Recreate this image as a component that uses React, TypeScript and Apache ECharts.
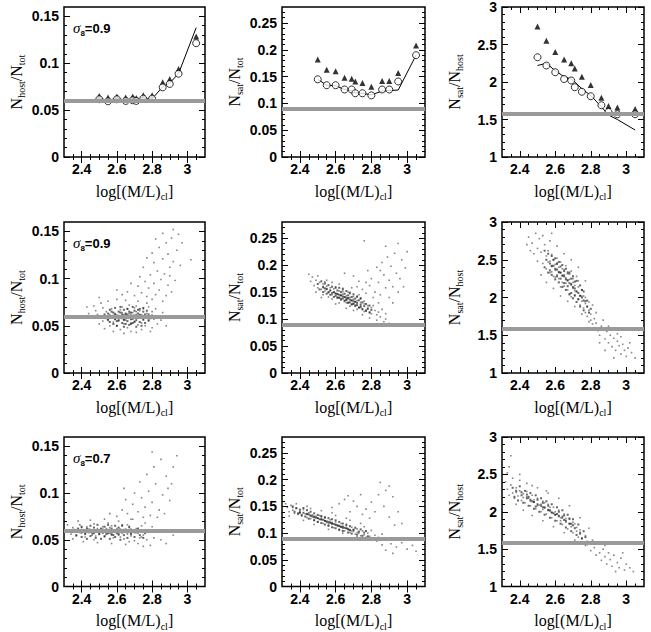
import React, { useEffect, useRef } from 'react';
import * as echarts from 'echarts';

// ---------- axis ticks ----------
const xMajor = [2.4, 2.6, 2.8, 3.0];
const xMinor = [2.35, 2.4, 2.45, 2.5, 2.55, 2.6, 2.65, 2.7, 2.75, 2.8, 2.85, 2.9, 2.95, 3.0, 3.05];
const yMajorHostTot = [0, 0.05, 0.1, 0.15];
const yMinorHostTot = [0.01, 0.02, 0.03, 0.04, 0.05, 0.06, 0.07, 0.08, 0.09, 0.1, 0.11, 0.12, 0.13, 0.14, 0.15];
const yMajorSatTot = [0, 0.05, 0.1, 0.15, 0.2, 0.25];
const yMinorSatTot = [0.01, 0.02, 0.03, 0.04, 0.05, 0.06, 0.07, 0.08, 0.09, 0.1, 0.11, 0.12, 0.13, 0.14, 0.15, 0.16, 0.17, 0.18, 0.19, 0.2, 0.21, 0.22, 0.23, 0.24, 0.25, 0.26, 0.27];
const yMajorSatHost = [1, 1.5, 2, 2.5, 3];
const yMinorSatHost = [1.1, 1.2, 1.3, 1.4, 1.5, 1.6, 1.7, 1.8, 1.9, 2, 2.1, 2.2, 2.3, 2.4, 2.5, 2.6, 2.7, 2.8, 2.9];

// ---------- reference levels (grey lines) ----------
const grayHostTot = 0.06;
const graySatTot = 0.094;
const graySatHost = 1.58;

// ---------- top row: binned results ----------
const binX = [2.5, 2.55, 2.6, 2.65, 2.69, 2.71, 2.75, 2.8, 2.86, 2.9, 2.95, 3.05];
const hostTotLine = [0.062, 0.061, 0.062, 0.061, 0.061, 0.061, 0.062, 0.062, 0.075, 0.079, 0.089, 0.138];
const hostTotCircles = [0.0616, 0.0594, 0.0616, 0.0598, 0.0605, 0.0598, 0.0623, 0.0623, 0.0743, 0.0779, 0.0888, 0.1214];
const hostTotTriangles = [0.065, 0.0634, 0.0645, 0.0634, 0.0645, 0.063, 0.066, 0.066, 0.0797, 0.0833, 0.094, 0.1286];
const satTotLine = [0.145, 0.134, 0.133, 0.126, 0.124, 0.12, 0.119, 0.116, 0.123, 0.124, 0.125, 0.19];
const satTotCircles = [0.145, 0.134, 0.134, 0.126, 0.126, 0.119, 0.119, 0.115, 0.126, 0.126, 0.141, 0.19];
const satTotTriangles = [0.182, 0.163, 0.16, 0.148, 0.146, 0.141, 0.138, 0.131, 0.142, 0.142, 0.157, 0.208];
const satHostLine = [2.22, 2.25, 2.15, 2.07, 2.04, 2.0, 1.91, 1.82, 1.67, 1.56, 1.5, 1.36];
const satHostCircles = [2.33, 2.22, 2.13, 2.04, 2.02, 1.93, 1.87, 1.81, 1.69, 1.6, 1.57, 1.57];
const satHostTriangles = [2.74, 2.55, 2.4, 2.3, 2.25, 2.18, 2.07, 1.96, 1.79, 1.68, 1.66, 1.64];

// ---------- middle row: sigma8 = 0.9 clusters (x, y pairs) ----------
const hostTot09 = [
  2.60,0.060, 2.62,0.058, 2.64,0.061, 2.66,0.059, 2.68,0.062, 2.70,0.060, 2.72,0.058, 2.63,0.064, 2.65,0.056, 2.67,0.063,
  2.69,0.057, 2.71,0.065, 2.61,0.055, 2.59,0.063, 2.57,0.059, 2.58,0.054, 2.56,0.062, 2.55,0.057, 2.74,0.061, 2.75,0.056,
  2.73,0.066, 2.76,0.059, 2.77,0.063, 2.78,0.055, 2.62,0.067, 2.66,0.068, 2.70,0.069, 2.64,0.052, 2.68,0.053, 2.72,0.051,
  2.60,0.050, 2.54,0.065, 2.53,0.060, 2.52,0.055, 2.57,0.068, 2.63,0.070, 2.67,0.072, 2.71,0.071, 2.75,0.068, 2.79,0.060,
  2.80,0.065, 2.81,0.057, 2.65,0.062, 2.69,0.064, 2.61,0.061, 2.67,0.058, 2.73,0.062, 2.64,0.057, 2.58,0.061, 2.70,0.055,
  2.74,0.053, 2.76,0.050, 2.66,0.048, 2.62,0.046, 2.56,0.050, 2.78,0.070, 2.69,0.061, 2.63,0.059, 2.59,0.057, 2.71,0.062,
  2.46,0.058, 2.48,0.066, 2.50,0.052, 2.47,0.071, 2.49,0.062, 2.51,0.074, 2.44,0.063, 2.53,0.047, 2.58,0.044, 2.68,0.044,
  2.74,0.046, 2.80,0.048, 2.83,0.052, 2.84,0.060, 2.82,0.068, 2.85,0.056, 2.86,0.064, 2.55,0.076, 2.60,0.078, 2.65,0.077,
  2.72,0.076, 2.77,0.074, 2.52,0.069, 2.43,0.070, 2.50,0.080, 2.88,0.050, 2.87,0.059, 2.64,0.042, 2.71,0.043, 2.79,0.044,
  2.70,0.082, 2.74,0.085, 2.77,0.081, 2.80,0.078, 2.82,0.083, 2.78,0.090, 2.84,0.088, 2.86,0.076, 2.88,0.082, 2.72,0.092,
  2.76,0.097, 2.81,0.095, 2.85,0.099, 2.89,0.093, 2.91,0.086, 2.79,0.104, 2.83,0.108, 2.87,0.105, 2.90,0.112, 2.93,0.098,
  2.75,0.112, 2.81,0.117, 2.86,0.121, 2.89,0.126, 2.92,0.118, 2.94,0.130, 2.84,0.133, 2.88,0.138, 2.91,0.143, 2.95,0.147,
  2.80,0.127, 2.77,0.122, 2.86,0.148, 2.92,0.152, 2.97,0.138, 2.66,0.086, 2.68,0.095, 2.63,0.083, 2.90,0.103, 2.96,0.114,
  2.73,0.102, 2.82,0.142, 3.02,0.120, 2.60,0.088,
];
const hostTot09Core = [
  2.54,0.058, 2.55,0.063, 2.56,0.054, 2.56,0.067, 2.57,0.060, 2.58,0.052, 2.58,0.064, 2.59,0.057, 2.59,0.069, 2.60,0.061,
  2.60,0.050, 2.61,0.065, 2.61,0.056, 2.62,0.059, 2.62,0.070, 2.63,0.053, 2.63,0.062, 2.64,0.067, 2.64,0.049, 2.65,0.058,
  2.65,0.063, 2.66,0.055, 2.66,0.068, 2.67,0.060, 2.67,0.051, 2.68,0.064, 2.68,0.057, 2.69,0.070, 2.69,0.053, 2.70,0.061,
  2.70,0.066, 2.71,0.056, 2.71,0.049, 2.72,0.063, 2.72,0.059, 2.73,0.068, 2.73,0.054, 2.74,0.061, 2.74,0.050, 2.75,0.065,
  2.75,0.057, 2.76,0.062, 2.76,0.053, 2.77,0.059, 2.77,0.066, 2.78,0.056, 2.78,0.062, 2.79,0.058, 2.80,0.061, 2.57,0.065,
  2.60,0.055, 2.62,0.064, 2.64,0.056, 2.66,0.062, 2.68,0.060, 2.70,0.054, 2.72,0.067, 2.67,0.065, 2.63,0.058, 2.69,0.058,
  2.65,0.052, 2.71,0.060, 2.53,0.062, 2.55,0.056, 2.73,0.061, 2.75,0.069, 2.61,0.060, 2.59,0.062, 2.64,0.061, 2.68,0.052,
];
const satTot09 = [
  2.60,0.148, 2.61,0.141, 2.62,0.152, 2.63,0.138, 2.64,0.146, 2.65,0.135, 2.66,0.143, 2.67,0.131, 2.68,0.140, 2.69,0.128,
  2.70,0.137, 2.71,0.126, 2.72,0.134, 2.73,0.122, 2.74,0.131, 2.75,0.119, 2.76,0.128, 2.77,0.117, 2.78,0.125, 2.79,0.113,
  2.80,0.121, 2.59,0.156, 2.58,0.145, 2.57,0.158, 2.56,0.149, 2.55,0.161, 2.54,0.152, 2.53,0.165, 2.52,0.155, 2.51,0.168,
  2.50,0.158, 2.49,0.172, 2.48,0.162, 2.62,0.139, 2.64,0.151, 2.66,0.136, 2.68,0.147, 2.70,0.129, 2.72,0.141, 2.74,0.124,
  2.76,0.133, 2.78,0.118, 2.63,0.144, 2.65,0.141, 2.67,0.138, 2.69,0.134, 2.71,0.132, 2.61,0.147, 2.59,0.150, 2.57,0.153,
  2.55,0.155, 2.53,0.158, 2.66,0.130, 2.70,0.142, 2.74,0.137, 2.60,0.160, 2.64,0.157, 2.68,0.124, 2.72,0.118, 2.76,0.114,
  2.80,0.110, 2.82,0.116, 2.83,0.108, 2.81,0.125, 2.84,0.113, 2.58,0.137, 2.62,0.130, 2.56,0.141, 2.54,0.169, 2.67,0.150,
  2.73,0.145, 2.46,0.170, 2.47,0.178, 2.45,0.183, 2.50,0.180, 2.52,0.140, 2.55,0.172, 2.58,0.168, 2.49,0.150, 2.60,0.128,
  2.66,0.120, 2.70,0.116, 2.75,0.108, 2.79,0.102, 2.85,0.104, 2.86,0.118, 2.88,0.110, 2.83,0.098, 2.87,0.095, 2.90,0.092,
  2.62,0.165, 2.69,0.158, 2.77,0.148, 2.84,0.130, 2.88,0.100, 2.53,0.145, 2.75,0.155, 2.79,0.162, 2.82,0.150, 2.85,0.145,
  2.88,0.158, 2.80,0.175, 2.84,0.168, 2.87,0.182, 2.90,0.172, 2.92,0.160, 2.78,0.190, 2.83,0.196, 2.86,0.205, 2.91,0.198,
  2.94,0.185, 2.96,0.175, 2.89,0.215, 2.93,0.222, 2.97,0.210, 2.99,0.195, 2.76,0.245, 2.88,0.235, 2.95,0.240, 2.73,0.170,
  2.70,0.180, 2.65,0.185, 2.81,0.140, 2.90,0.140, 2.95,0.150, 3.00,0.225, 2.98,0.160, 2.72,0.160, 2.85,0.190, 2.77,0.168,
  2.92,0.130,
];
const satTot09Core = [
  2.50,0.165, 2.51,0.155, 2.52,0.170, 2.53,0.160, 2.53,0.150, 2.54,0.166, 2.55,0.156, 2.55,0.147, 2.56,0.163, 2.57,0.153,
  2.57,0.145, 2.58,0.160, 2.59,0.150, 2.59,0.141, 2.60,0.158, 2.60,0.147, 2.61,0.139, 2.61,0.153, 2.62,0.145, 2.62,0.158,
  2.63,0.136, 2.63,0.150, 2.64,0.142, 2.64,0.155, 2.65,0.133, 2.65,0.147, 2.66,0.139, 2.66,0.152, 2.67,0.130, 2.67,0.144,
  2.68,0.136, 2.68,0.149, 2.69,0.127, 2.69,0.141, 2.70,0.133, 2.70,0.146, 2.71,0.124, 2.71,0.138, 2.72,0.130, 2.72,0.142,
  2.73,0.121, 2.73,0.135, 2.74,0.127, 2.74,0.139, 2.75,0.118, 2.75,0.131, 2.76,0.124, 2.77,0.115, 2.77,0.128, 2.78,0.120,
  2.79,0.112, 2.79,0.125, 2.80,0.117, 2.56,0.150, 2.58,0.148, 2.60,0.143, 2.62,0.140, 2.64,0.138, 2.66,0.135, 2.68,0.131,
  2.70,0.128, 2.72,0.126, 2.74,0.122, 2.63,0.144, 2.67,0.139, 2.71,0.132, 2.65,0.141, 2.69,0.135, 2.61,0.146, 2.54,0.157,
];
const satHost09 = [
  2.52,2.60, 2.53,2.45, 2.54,2.70, 2.55,2.38, 2.55,2.55, 2.56,2.62, 2.57,2.33, 2.57,2.48, 2.58,2.41, 2.58,2.57,
  2.59,2.28, 2.59,2.50, 2.60,2.36, 2.60,2.44, 2.61,2.30, 2.61,2.52, 2.62,2.25, 2.62,2.40, 2.63,2.33, 2.63,2.47,
  2.64,2.20, 2.64,2.29, 2.65,2.37, 2.65,2.15, 2.66,2.26, 2.66,2.42, 2.67,2.10, 2.67,2.22, 2.68,2.31, 2.68,2.05,
  2.69,2.18, 2.69,2.35, 2.70,2.12, 2.70,2.25, 2.71,2.02, 2.71,2.16, 2.72,2.08, 2.72,2.28, 2.73,1.97, 2.73,2.14,
  2.74,2.03, 2.74,1.90, 2.75,2.10, 2.75,1.95, 2.76,1.86, 2.76,2.02, 2.77,1.92, 2.77,1.80, 2.78,1.88, 2.78,1.75,
  2.79,1.83, 2.80,1.70, 2.80,1.78, 2.81,1.65, 2.82,1.72, 2.82,1.60, 2.83,1.66, 2.84,1.56, 2.62,2.33, 2.64,2.38,
  2.66,2.19, 2.68,2.24, 2.70,2.20, 2.60,2.27, 2.58,2.34, 2.56,2.47, 2.65,2.30, 2.67,2.34, 2.71,2.09, 2.73,2.22,
  2.63,2.14, 2.61,2.44, 2.69,2.01, 2.75,2.02, 2.79,1.94, 2.77,2.00, 2.45,2.80, 2.47,2.72, 2.48,2.58, 2.49,2.85,
  2.50,2.48, 2.51,2.78, 2.50,2.65, 2.46,2.62, 2.53,2.82, 2.55,2.20, 2.57,2.75, 2.59,2.12, 2.61,2.68, 2.63,2.02,
  2.65,2.58, 2.67,1.95, 2.69,2.50, 2.71,1.88, 2.73,2.40, 2.75,1.78, 2.77,2.22, 2.79,1.68, 2.81,1.90, 2.83,1.80,
  2.85,1.50, 2.86,1.62, 2.87,1.70, 2.58,2.85, 2.52,2.30, 2.44,2.70, 2.88,1.45, 2.89,1.55, 2.90,1.40, 2.91,1.50,
  2.92,1.35, 2.93,1.46, 2.94,1.30, 2.95,1.42, 2.96,1.36, 2.97,1.25, 2.98,1.38, 2.99,1.30, 3.00,1.22, 3.01,1.33,
  3.03,1.27, 3.05,1.20, 2.90,1.62, 2.92,1.58, 2.95,1.52, 2.88,1.30, 2.97,1.48, 3.02,1.40, 2.85,1.40, 2.93,1.20,
];
const satHost09Core = [
  2.54,2.62, 2.54,2.40, 2.55,2.50, 2.56,2.58, 2.56,2.33, 2.57,2.45, 2.58,2.55, 2.58,2.30, 2.59,2.42, 2.60,2.52,
  2.60,2.24, 2.61,2.37, 2.62,2.47, 2.62,2.20, 2.63,2.33, 2.64,2.43, 2.64,2.14, 2.65,2.28, 2.66,2.38, 2.66,2.10,
  2.67,2.23, 2.68,2.33, 2.68,2.04, 2.69,2.17, 2.70,2.28, 2.70,1.99, 2.71,2.12, 2.72,2.22, 2.72,1.94, 2.73,2.06,
  2.74,2.16, 2.74,1.88, 2.75,2.00, 2.76,2.08, 2.76,1.83, 2.77,1.95, 2.78,1.88, 2.79,1.80, 2.80,1.85, 2.58,2.42,
  2.60,2.38, 2.62,2.34, 2.64,2.29, 2.66,2.24, 2.68,2.19, 2.70,2.14, 2.72,2.08, 2.74,2.02, 2.76,1.96, 2.61,2.28,
  2.63,2.41, 2.65,2.19, 2.67,2.32, 2.69,2.06, 2.71,2.21, 2.73,1.98, 2.57,2.36, 2.59,2.50, 2.63,2.25, 2.67,2.15,
  2.69,2.25, 2.71,2.03, 2.65,2.35, 2.61,2.45, 2.75,2.10, 2.78,1.96,
];

// ---------- bottom row: sigma8 = 0.7 clusters (x, y pairs) ----------
const hostTot07 = [
  2.33,0.060, 2.34,0.056, 2.35,0.063, 2.36,0.058, 2.37,0.054, 2.38,0.061, 2.39,0.066, 2.40,0.057, 2.41,0.060, 2.42,0.053,
  2.43,0.064, 2.44,0.058, 2.45,0.061, 2.46,0.055, 2.47,0.067, 2.48,0.059, 2.49,0.062, 2.50,0.056, 2.51,0.060, 2.52,0.064,
  2.53,0.053, 2.54,0.058, 2.55,0.061, 2.56,0.057, 2.57,0.065, 2.58,0.052, 2.59,0.059, 2.60,0.062, 2.61,0.055, 2.62,0.058,
  2.63,0.066, 2.64,0.051, 2.65,0.060, 2.66,0.056, 2.67,0.063, 2.68,0.054, 2.69,0.059, 2.70,0.049, 2.71,0.062, 2.72,0.057,
  2.73,0.052, 2.74,0.065, 2.75,0.055, 2.76,0.060, 2.77,0.050, 2.78,0.058, 2.48,0.054, 2.52,0.057, 2.56,0.063, 2.60,0.058,
  2.64,0.061, 2.68,0.057, 2.44,0.060, 2.40,0.063, 2.36,0.061, 2.58,0.060, 2.62,0.053, 2.66,0.066, 2.54,0.062, 2.50,0.059,
  2.46,0.058, 2.42,0.057, 2.70,0.058, 2.74,0.053, 2.63,0.057, 2.57,0.055, 2.32,0.066, 2.35,0.051, 2.38,0.070, 2.41,0.048,
  2.45,0.071, 2.49,0.047, 2.53,0.072, 2.57,0.046, 2.61,0.070, 2.65,0.045, 2.69,0.072, 2.72,0.046, 2.76,0.068, 2.79,0.044,
  2.80,0.064, 2.81,0.052, 2.83,0.058, 2.85,0.050, 2.88,0.046, 2.92,0.055, 2.97,0.060, 2.55,0.068, 2.47,0.050, 2.67,0.048,
  2.75,0.043, 2.60,0.075, 2.63,0.082, 2.66,0.078, 2.69,0.088, 2.72,0.080, 2.74,0.095, 2.76,0.085, 2.78,0.102, 2.80,0.090,
  2.82,0.110, 2.84,0.082, 2.86,0.098, 2.88,0.118, 2.90,0.092, 2.92,0.128, 2.70,0.100, 2.73,0.112, 2.77,0.120, 2.81,0.128,
  2.85,0.136, 2.89,0.105, 2.94,0.140, 2.68,0.072, 2.79,0.076, 2.83,0.074, 2.56,0.078, 2.65,0.093, 2.75,0.074, 2.87,0.078,
  2.91,0.110, 2.80,0.144, 2.64,0.105,
];
const hostTot07Core = [
  2.36,0.059, 2.37,0.055, 2.38,0.062, 2.39,0.058, 2.40,0.053, 2.40,0.064, 2.41,0.060, 2.42,0.056, 2.43,0.062, 2.43,0.051,
  2.44,0.058, 2.45,0.065, 2.45,0.054, 2.46,0.060, 2.47,0.057, 2.47,0.063, 2.48,0.052, 2.49,0.060, 2.49,0.066, 2.50,0.056,
  2.51,0.062, 2.51,0.051, 2.52,0.058, 2.53,0.064, 2.53,0.054, 2.54,0.060, 2.55,0.057, 2.55,0.066, 2.56,0.051, 2.57,0.062,
  2.57,0.056, 2.58,0.059, 2.59,0.065, 2.59,0.053, 2.60,0.060, 2.61,0.056, 2.61,0.063, 2.62,0.050, 2.63,0.059, 2.63,0.065,
  2.64,0.055, 2.65,0.061, 2.66,0.052, 2.66,0.058, 2.67,0.064, 2.68,0.056, 2.69,0.060, 2.70,0.053, 2.71,0.058, 2.72,0.062,
  2.73,0.055, 2.74,0.059, 2.75,0.052, 2.76,0.057, 2.44,0.061, 2.48,0.059, 2.52,0.061, 2.56,0.059, 2.60,0.057, 2.64,0.060,
  2.68,0.061, 2.50,0.058, 2.54,0.056, 2.58,0.055, 2.62,0.061, 2.46,0.057, 2.42,0.060, 2.70,0.058,
];
const satTot07 = [
  2.33,0.148, 2.34,0.140, 2.35,0.152, 2.36,0.143, 2.37,0.137, 2.38,0.146, 2.39,0.135, 2.40,0.141, 2.41,0.132, 2.42,0.144,
  2.43,0.136, 2.44,0.129, 2.45,0.138, 2.46,0.127, 2.47,0.134, 2.48,0.124, 2.49,0.131, 2.50,0.121, 2.51,0.133, 2.52,0.125,
  2.53,0.118, 2.54,0.128, 2.55,0.120, 2.56,0.114, 2.57,0.125, 2.58,0.117, 2.59,0.110, 2.60,0.121, 2.61,0.113, 2.62,0.107,
  2.63,0.118, 2.64,0.109, 2.65,0.104, 2.66,0.114, 2.67,0.106, 2.68,0.101, 2.69,0.111, 2.70,0.103, 2.71,0.098, 2.72,0.108,
  2.73,0.100, 2.74,0.095, 2.75,0.104, 2.76,0.097, 2.77,0.092, 2.78,0.100, 2.79,0.094, 2.80,0.090, 2.82,0.096, 2.46,0.132,
  2.50,0.128, 2.54,0.123, 2.58,0.120, 2.62,0.114, 2.66,0.109, 2.70,0.107, 2.44,0.135, 2.40,0.139, 2.36,0.148, 2.52,0.130,
  2.56,0.118, 2.60,0.115, 2.64,0.113, 2.68,0.105, 2.72,0.101, 2.48,0.129, 2.57,0.119, 2.63,0.111, 2.69,0.104, 2.32,0.155,
  2.34,0.132, 2.38,0.155, 2.42,0.124, 2.44,0.150, 2.48,0.116, 2.52,0.142, 2.56,0.107, 2.60,0.133, 2.64,0.100, 2.68,0.124,
  2.72,0.093, 2.76,0.112, 2.80,0.105, 2.84,0.092, 2.83,0.085, 2.86,0.098, 2.88,0.090, 2.78,0.087, 2.46,0.146, 2.58,0.138,
  2.66,0.128, 2.74,0.118, 2.58,0.148, 2.62,0.155, 2.65,0.163, 2.68,0.140, 2.70,0.160, 2.72,0.150, 2.75,0.135, 2.77,0.145,
  2.79,0.128, 2.80,0.158, 2.82,0.140, 2.84,0.172, 2.85,0.195, 2.87,0.150, 2.88,0.180, 2.90,0.130, 2.92,0.168, 2.93,0.115,
  2.95,0.140, 2.97,0.118, 2.74,0.172, 2.67,0.170, 2.90,0.188, 2.88,0.068, 2.91,0.080, 2.94,0.074, 2.97,0.082, 3.00,0.070,
  3.03,0.077, 2.86,0.078, 2.92,0.062, 2.99,0.088, 3.05,0.066,
];
const satTot07Core = [
  2.36,0.150, 2.37,0.140, 2.38,0.147, 2.39,0.137, 2.40,0.144, 2.41,0.134, 2.42,0.147, 2.42,0.138, 2.43,0.131, 2.44,0.143,
  2.45,0.135, 2.45,0.127, 2.46,0.140, 2.47,0.131, 2.48,0.124, 2.48,0.137, 2.49,0.129, 2.50,0.121, 2.50,0.134, 2.51,0.126,
  2.52,0.132, 2.52,0.119, 2.53,0.125, 2.54,0.130, 2.54,0.116, 2.55,0.122, 2.56,0.128, 2.56,0.114, 2.57,0.120, 2.58,0.126,
  2.58,0.111, 2.59,0.117, 2.60,0.124, 2.60,0.109, 2.61,0.115, 2.62,0.121, 2.62,0.106, 2.63,0.112, 2.64,0.118, 2.64,0.104,
  2.65,0.110, 2.66,0.116, 2.67,0.101, 2.67,0.108, 2.68,0.113, 2.69,0.099, 2.70,0.106, 2.71,0.110, 2.72,0.097, 2.73,0.103,
  2.74,0.107, 2.75,0.095, 2.76,0.101, 2.77,0.104, 2.78,0.094, 2.44,0.136, 2.48,0.131, 2.52,0.126, 2.56,0.121, 2.60,0.116,
  2.64,0.111, 2.68,0.106, 2.46,0.133, 2.50,0.128, 2.54,0.123, 2.58,0.118, 2.62,0.113, 2.66,0.109, 2.40,0.138,
];
const satHost07 = [
  2.33,2.30, 2.34,2.22, 2.35,2.36, 2.36,2.25, 2.37,2.18, 2.38,2.32, 2.39,2.21, 2.40,2.28, 2.41,2.15, 2.42,2.24,
  2.43,2.12, 2.44,2.27, 2.45,2.18, 2.46,2.08, 2.47,2.22, 2.48,2.13, 2.49,2.04, 2.50,2.18, 2.51,2.09, 2.52,2.00,
  2.53,2.14, 2.54,2.05, 2.55,1.97, 2.56,2.10, 2.57,2.01, 2.58,1.92, 2.59,2.06, 2.60,1.96, 2.61,1.88, 2.62,2.02,
  2.63,1.92, 2.64,1.83, 2.65,1.97, 2.66,1.86, 2.67,1.77, 2.68,1.90, 2.69,1.80, 2.70,1.72, 2.71,1.84, 2.72,1.74,
  2.73,1.66, 2.74,1.76, 2.75,1.65, 2.76,1.58, 2.77,1.68, 2.78,1.56, 2.44,2.20, 2.48,2.16, 2.52,2.10, 2.56,2.03,
  2.60,2.00, 2.64,1.94, 2.68,1.84, 2.72,1.79, 2.50,2.08, 2.54,2.12, 2.58,1.99, 2.62,1.95, 2.66,1.91, 2.46,2.14,
  2.42,2.19, 2.38,2.26, 2.70,1.86, 2.74,1.70, 2.57,2.06, 2.63,1.88, 2.53,2.03, 2.32,2.40, 2.33,2.52, 2.35,2.75,
  2.36,2.45, 2.38,2.10, 2.40,2.42, 2.42,2.02, 2.44,2.38, 2.47,1.95, 2.50,2.32, 2.53,1.88, 2.56,2.25, 2.59,1.80,
  2.62,2.18, 2.65,1.72, 2.68,2.08, 2.71,1.62, 2.74,1.92, 2.77,1.55, 2.79,1.78, 2.80,1.48, 2.81,1.62, 2.34,2.60,
  2.40,2.50, 2.47,2.35, 2.55,2.28, 2.82,1.52, 2.83,1.42, 2.84,1.58, 2.85,1.45, 2.86,1.35, 2.87,1.50, 2.88,1.40,
  2.89,1.30, 2.90,1.45, 2.91,1.36, 2.92,1.27, 2.93,1.42, 2.95,1.32, 2.96,1.25, 2.97,1.38, 2.99,1.22, 3.00,1.30,
  3.02,1.25, 3.04,1.20, 2.94,1.20, 2.88,1.55, 2.98,1.45,
];
const satHost07Core = [
  2.36,2.32, 2.37,2.20, 2.38,2.28, 2.39,2.15, 2.40,2.34, 2.41,2.22, 2.42,2.12, 2.43,2.28, 2.44,2.18, 2.45,2.08,
  2.46,2.25, 2.47,2.14, 2.48,2.04, 2.49,2.22, 2.50,2.10, 2.51,2.00, 2.52,2.18, 2.53,2.06, 2.54,1.96, 2.55,2.14,
  2.56,2.02, 2.57,1.92, 2.58,2.10, 2.59,1.98, 2.60,1.88, 2.61,2.06, 2.62,1.94, 2.63,1.84, 2.64,2.02, 2.65,1.89,
  2.66,1.79, 2.67,1.96, 2.68,1.84, 2.69,1.74, 2.70,1.90, 2.71,1.78, 2.72,1.69, 2.73,1.83, 2.74,1.72, 2.75,1.64,
  2.76,1.74, 2.77,1.66, 2.78,1.60, 2.44,2.23, 2.46,2.16, 2.48,2.13, 2.50,2.16, 2.52,2.08, 2.54,2.06, 2.56,2.08,
  2.58,1.99, 2.60,1.96, 2.62,2.00, 2.64,1.92, 2.66,1.88, 2.68,1.91, 2.70,1.82, 2.41,2.26, 2.53,2.12, 2.57,2.02,
  2.61,1.97, 2.65,1.95, 2.69,1.84, 2.49,2.07, 2.45,2.20,
];

// ---------- layout ----------
const colLeft = [64, 282, 502];
const colWidth = [141, 143, 142];
const rowTop = [7, 222, 437];
const rowHeight = [150, 151, 151];

const serif = "'Liberation Serif', 'DejaVu Serif', serif";
const sans = "'Liberation Sans', Arial, sans-serif";

function pairs(flat: number[]): number[][] {
  const out: number[][] = [];
  for (let i = 0; i + 1 < flat.length; i += 2) out.push([flat[i], flat[i + 1]]);
  return out;
}
function zipX(ys: number[]): number[][] {
  return binX.map((x, k) => [x, ys[k]]);
}

const nameRich = {
  a: { fontFamily: serif, fontSize: 16, color: '#000', lineHeight: 18 },
  b: { fontFamily: serif, fontSize: 10, color: '#000', lineHeight: 10, padding: [11, 0, 0, 0] },
};

const columns = [
  { min: 0, max: 0.16, major: yMajorHostTot, minor: yMinorHostTot, name: '{a|N}{b|host}{a|/N}{b|tot}', gray: grayHostTot },
  { min: 0, max: 0.28, major: yMajorSatTot, minor: yMinorSatTot, name: '{a|N}{b|sat}{a|/N}{b|tot}', gray: graySatTot },
  { min: 1, max: 3, major: yMajorSatHost, minor: yMinorSatHost, name: '{a|N}{b|sat}{a|/N}{b|host}', gray: graySatHost },
];

const topRow = [
  { line: hostTotLine, circles: hostTotCircles, tris: hostTotTriangles },
  { line: satTotLine, circles: satTotCircles, tris: satTotTriangles },
  { line: satHostLine, circles: satHostCircles, tris: satHostTriangles },
];
const cloudRows = [
  [hostTot09, satTot09, satHost09],
  [hostTot07, satTot07, satHost07],
];
const coreRows = [
  [hostTot09Core, satTot09Core, satHost09Core],
  [hostTot07Core, satTot07Core, satHost07Core],
];
const sigmaLabels = ['0.9', '0.9', '0.7'];

function buildOption() {
  const grid: any[] = [];
  const xAxis: any[] = [];
  const yAxis: any[] = [];
  const series: any[] = [];
  const graphic: any[] = [];

  for (let r = 0; r < 3; r++) {
    for (let c = 0; c < 3; c++) {
      const gi = grid.length;
      const col = columns[c];
      grid.push({
        left: colLeft[c], top: rowTop[r], width: colWidth[c], height: rowHeight[r],
        show: true, borderColor: '#000', borderWidth: 1.5, backgroundColor: 'transparent',
      });
      const xi = xAxis.length;
      const mkX = (position: string, major: boolean, labels: boolean) => ({
        type: 'value', gridIndex: gi, position, min: 2.3, max: 3.1,
        axisLine: { show: false }, splitLine: { show: false },
        axisTick: { show: true, inside: true, length: major ? 6 : 3, lineStyle: { color: '#000', width: 1 }, customValues: major ? xMajor : xMinor },
        axisLabel: labels
          ? { show: true, customValues: xMajor, margin: 5, fontFamily: sans, fontWeight: 'bold', fontSize: 14, color: '#000' }
          : { show: false },
        name: labels ? '{a|log[(M/L)}{b|cl}{a|]}' : '',
        nameLocation: 'middle', nameGap: 25,
        nameTextStyle: { rich: nameRich },
        silent: true,
      });
      xAxis.push(mkX('bottom', true, true), mkX('bottom', false, false), mkX('top', true, false), mkX('top', false, false));
      const yi = yAxis.length;
      const mkY = (position: string, major: boolean, labels: boolean) => ({
        type: 'value', gridIndex: gi, position, min: col.min, max: col.max,
        axisLine: { show: false }, splitLine: { show: false },
        axisTick: { show: true, inside: true, length: major ? 6 : 3, lineStyle: { color: '#000', width: 1 }, customValues: major ? col.major : col.minor },
        axisLabel: labels
          ? { show: true, customValues: col.major, margin: 5, fontFamily: sans, fontWeight: 'bold', fontSize: 14, color: '#000' }
          : { show: false },
        name: labels ? col.name : '',
        nameLocation: 'middle', nameGap: 39,
        nameTextStyle: { rich: nameRich },
        silent: true,
      });
      yAxis.push(mkY('left', true, true), mkY('left', false, false), mkY('right', true, false), mkY('right', false, false));

      const grayZ = r === 0 ? 1 : 5;
      series.push({
        type: 'scatter', xAxisIndex: xi, yAxisIndex: yi, data: [], silent: true, z: grayZ,
        markLine: {
          silent: true, symbol: ['none', 'none'], label: { show: false },
          lineStyle: { color: '#9a9a9a', width: 4, type: 'solid' },
          data: [{ yAxis: col.gray }],
        },
      });

      if (r === 0) {
        const d = topRow[c];
        series.push({
          type: 'line', xAxisIndex: xi, yAxisIndex: yi, data: zipX(d.line), showSymbol: false, silent: true, z: 2,
          lineStyle: { color: '#000', width: 1 },
        });
        series.push({
          type: 'scatter', xAxisIndex: xi, yAxisIndex: yi, data: zipX(d.tris), symbol: 'triangle', symbolSize: 6, silent: true, z: 3,
          itemStyle: { color: '#000' },
        });
        series.push({
          type: 'scatter', xAxisIndex: xi, yAxisIndex: yi, data: zipX(d.circles), symbol: 'circle', symbolSize: 7, silent: true, z: 4,
          itemStyle: { color: '#fff', borderColor: '#000', borderWidth: 1 },
        });
      } else {
        series.push({
          type: 'scatter', xAxisIndex: xi, yAxisIndex: yi, data: pairs(cloudRows[r - 1][c]), symbol: 'rect', symbolSize: 1.6, silent: true, z: 2,
          itemStyle: { color: 'rgba(40,40,40,0.7)' },
        });
        series.push({
          type: 'scatter', xAxisIndex: xi, yAxisIndex: yi, data: pairs(coreRows[r - 1][c]), symbol: 'rect', symbolSize: 2, silent: true, z: 3,
          itemStyle: { color: 'rgba(0,0,0,0.75)' },
        });
      }

      if (c === 0) {
        graphic.push({
          type: 'text', left: colLeft[0] + 9, top: rowTop[r] + 12, silent: true,
          style: {
            text: '{g|σ}{s|8}{t|=' + sigmaLabels[r] + '}',
            rich: {
              g: { fontFamily: serif, fontStyle: 'italic', fontSize: 15, fill: '#000', lineHeight: 15 },
              s: { fontFamily: sans, fontWeight: 'bold', fontSize: 8, fill: '#000', lineHeight: 8, padding: [10, 0, 0, 0] },
              t: { fontFamily: sans, fontWeight: 'bold', fontSize: 13, fill: '#000', lineHeight: 15 },
            },
          },
        });
      }
    }
  }
  return { animation: false, backgroundColor: '#fff', grid, xAxis, yAxis, series, graphic };
}

export default function App() {
  const ref = useRef<HTMLDivElement>(null);
  useEffect(() => {
    if (!ref.current) return;
    const chart = echarts.init(ref.current, undefined, { renderer: 'svg' });
    chart.setOption(buildOption() as any);
    return () => chart.dispose();
  }, []);
  return <div ref={ref} style={{ position: 'absolute', left: 0, top: 0, width: 651, height: 632 }} />;
}
